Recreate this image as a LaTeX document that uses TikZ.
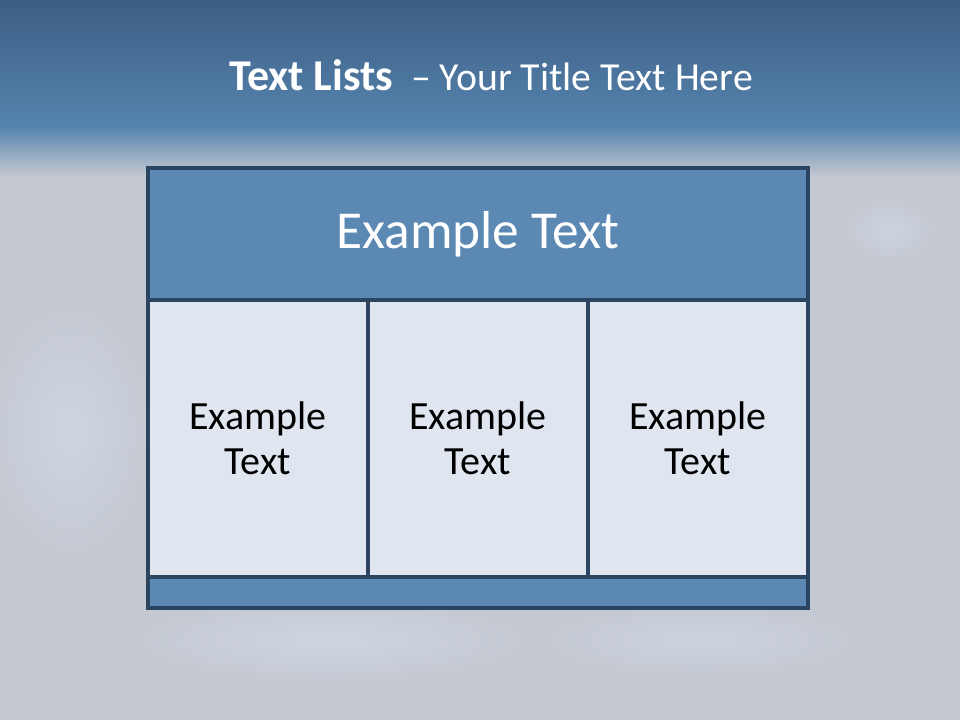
\documentclass[tikz,border=0pt]{standalone}
\usepackage{fontspec}
\setmainfont{Carlito}
\usepackage{tikz}
\usetikzlibrary{positioning,fadings}
\definecolor{skytop}   {HTML}{3D5D83}
\definecolor{skyband}  {HTML}{5584AE}
\definecolor{mist}     {HTML}{C3C8D1}
\definecolor{mistlight}{HTML}{D8DFEA}
\definecolor{framenavy}{HTML}{2B4560}
\definecolor{headblue} {HTML}{5B89B4}
\definecolor{cellpale} {HTML}{DFE6EF}
\tikzfading[name=softspot, inner color=transparent!0, outer color=transparent!100]
\tikzset{
  titletext/.style ={text=white, font=\fontsize{29.8}{36}\selectfont, inner sep=0pt},
  headbox/.style   ={draw=framenavy, fill=headblue, line width=2.6pt,
                     minimum width=495pt, minimum height=99pt, inner sep=0pt,
                     text=white, font=\fontsize{40}{46}\selectfont},
  cellbox/.style   ={draw=framenavy, fill=cellpale, line width=2.6pt,
                     minimum width=165pt, minimum height=207.75pt, inner sep=0pt,
                     align=center, font=\fontsize{30}{34}\selectfont},
  footbox/.style   ={draw=framenavy, fill=headblue, line width=2.6pt,
                     minimum width=495pt, minimum height=23.25pt, inner sep=0pt},
  blob/.style      ={fill=mistlight, path fading=softspot},
}

\begin{document}
\begin{tikzpicture}[x=0.75pt,y=0.75pt]
    \useasboundingbox (0,0) rectangle (960,-720);

    % backdrop
    \fill[mist] (0,0) rectangle (960,-720);
    \shade[top color=skytop, bottom color=skyband] (0,0) rectangle (960,-126);
    \shade[top color=skyband, bottom color=mist] (0,-126) rectangle (960,-176);
    \fill[blob, opacity=0.6] (70,-430) ellipse (90 and 140);
    \fill[blob, opacity=0.6] (330,-640) ellipse (220 and 45);
    \fill[blob, opacity=0.5] (700,-640) ellipse (180 and 40);
    \fill[blob, opacity=0.5] (890,-230) ellipse (50 and 35);

    % title
    \node[titletext] (title) at (491,-75)
      {{\fontsize{33}{36}\selectfont\bfseries Text Lists}~\ – Your Title Text Here};

    % table
    \node[headbox] (head)  at (478,-234)   {Example Text};
    \node[cellbox] (cella) at (258,-438.5) {Example\\Text};
    \node[cellbox] (cellb) at (478,-438.5) {Example\\Text};
    \node[cellbox] (cellc) at (698,-438.5) {Example\\Text};
    \node[footbox] (foot)  at (478,-592.5) {};
  \end{tikzpicture}
\end{document}
